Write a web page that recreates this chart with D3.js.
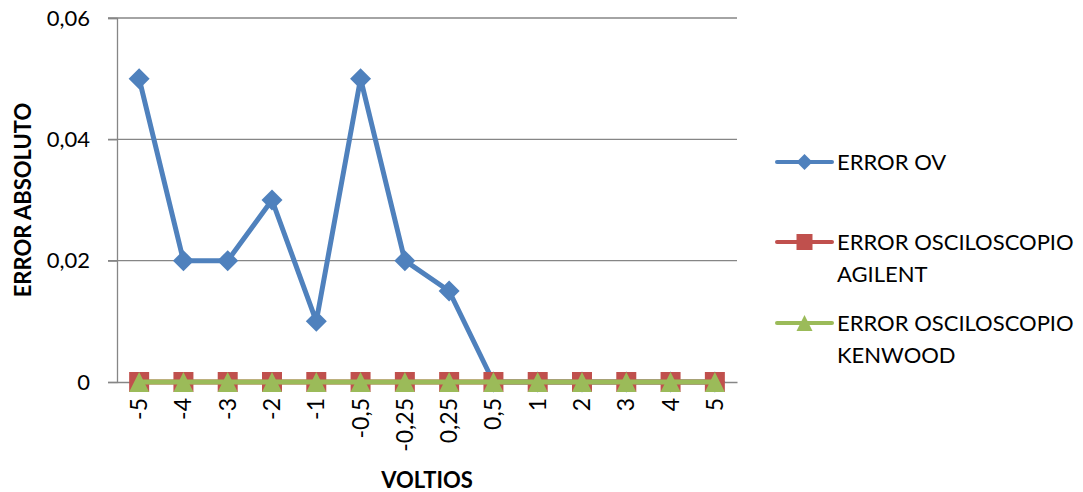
<!DOCTYPE html>
<html><head><meta charset="utf-8">
<script src="https://cdn.jsdelivr.net/npm/d3@7"></script>
<style>body{margin:0;background:#fff}svg{display:block}text{font-family:Lato,"Open Sans",sans-serif;fill:#000}</style>
</head><body>
<svg id="c" width="1083" height="492"></svg>
<script>
const categories = ["-5","-4","-3","-2","-1","-0,5","-0,25","0,25","0,5","1","2","3","4","5"];
const errorOV      = [0.05,0.02,0.02,0.03,0.01,0.05,0.02,0.015,0,0,0,0,0,0];
const errorAgilent = [0,0,0,0,0,0,0,0,0,0,0,0,0,0];
const errorKenwood = [0,0,0,0,0,0,0,0,0,0,0,0,0,0];
const yTicks = [0,0.02,0.04,0.06];
const yTickLabels = ["0","0,02","0,04","0,06"];

// square-shaped diamond (rotated square), half-diagonal r
const diamond = r => `M0,${-r}L${r},0L0,${r}L${-r},0Z`;
const square = r => `M${-r},${-r}H${r}V${r}H${-r}Z`;
const triangle = r => `M0,${-r}L${r},${r}H${-r}Z`;

const series = [
  {name:["ERROR OV"], values:errorOV, color:"#4F81BD", mark:diamond, size:10.5, legSize:8},
  {name:["ERROR OSCILOSCOPIO","AGILENT"], values:errorAgilent, color:"#C0504D", mark:square, size:10, legSize:8},
  {name:["ERROR OSCILOSCOPIO","KENWOOD"], values:errorKenwood, color:"#9BBB59", mark:triangle, size:10, legSize:8}
];

const svg = d3.select("#c");
const L = 117, R = 737, T = 18, B = 382;
const x = d3.scaleBand().domain(categories).range([L,R]);
const y = d3.scaleLinear().domain([0,0.06]).range([B,T]);
const FS = "22px";

// grid lines
svg.append("g").selectAll("line").data(yTicks.filter(d=>d>0)).join("line")
  .attr("x1",L-9).attr("x2",R).attr("y1",d=>y(d)).attr("y2",d=>y(d))
  .attr("stroke","#868686").attr("stroke-width",1.3);

// y axis
const yAxis = svg.append("g").attr("transform",`translate(${L},0)`)
  .call(d3.axisLeft(y).tickValues(yTicks).tickFormat((d,i)=>yTickLabels[i]).tickSize(9).tickPadding(18));
yAxis.select(".domain").attr("stroke","#868686").attr("stroke-width",1.3);
yAxis.selectAll(".tick line").attr("stroke","#868686").attr("stroke-width",1.3);
yAxis.selectAll("text").style("font-size",FS).attr("font-family","Lato,'Open Sans',sans-serif");

// x axis
const xAxis = svg.append("g").attr("transform",`translate(0,${B})`)
  .call(d3.axisBottom(x).tickSize(0).tickPadding(0));
xAxis.select(".domain").attr("stroke","#868686").attr("stroke-width",1.3);
xAxis.selectAll("text").style("font-size","23px").attr("font-family","Lato,'Open Sans',sans-serif")
  .attr("transform","rotate(-90)").attr("text-anchor","end")
  .attr("x",-16).attr("y",0).attr("dy","0.35em");

// series lines and markers
const cx = i => x(categories[i]) + x.bandwidth()/2;
const line = d3.line().x((d,i)=>cx(i)).y(d=>y(d));
series.forEach(s=>{
  svg.append("path").datum(s.values).attr("d",line)
    .attr("fill","none").attr("stroke",s.color).attr("stroke-width",5).attr("stroke-linejoin","round");
  svg.append("g").selectAll("path").data(s.values).join("path")
    .attr("transform",(d,i)=>`translate(${cx(i)},${y(d)})`)
    .attr("d",s.mark(s.size)).attr("fill",s.color);
});

// axis titles
svg.append("text").attr("x",427).attr("y",488).attr("text-anchor","middle")
  .style("font-size",FS).style("font-weight","bold").text("VOLTIOS");
svg.append("text").attr("transform","translate(31,200) rotate(-90)").attr("text-anchor","middle")
  .style("font-size",FS).style("font-weight","bold").text("ERROR ABSOLUTO");

// legend
const legY = [162,242,323];
series.forEach((s,i)=>{
  const g = svg.append("g");
  g.append("line").attr("x1",777).attr("x2",832).attr("y1",legY[i]).attr("y2",legY[i])
    .attr("stroke",s.color).attr("stroke-width",4).attr("stroke-linecap","round");
  g.append("path").attr("transform",`translate(804.5,${legY[i]})`)
    .attr("d",s.mark(s.legSize)).attr("fill",s.color);
  s.name.forEach((t,j)=>{
    g.append("text").attr("x",837).attr("y",legY[i]+j*32).attr("dy","0.35em")
      .style("font-size",FS).text(t);
  });
});
</script>
</body></html>
